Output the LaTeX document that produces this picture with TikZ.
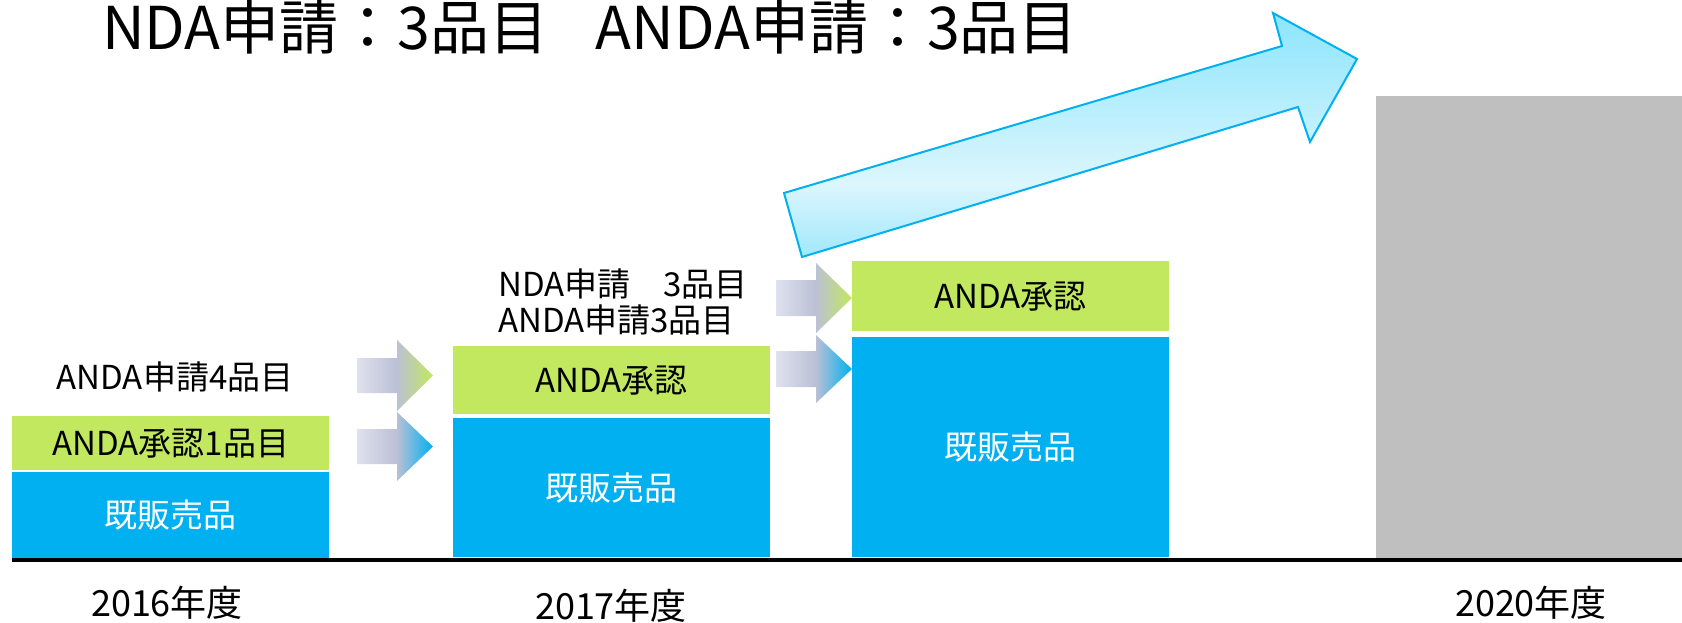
\documentclass[tikz,border=0pt]{standalone}
\usepackage{fontspec}
\setmainfont{Noto Sans CJK JP}
\usetikzlibrary{calc}

\definecolor{apprgreen}{RGB}{193,232,94}
\definecolor{salesblue}{RGB}{0,176,240}
\definecolor{futuregrey}{RGB}{191,191,191}
\definecolor{arrowpale}{RGB}{223,225,238}
\definecolor{arrowgrey}{RGB}{188,192,214}
\definecolor{growdark}{RGB}{140,229,252}
\definecolor{growlight}{RGB}{220,246,253}
\definecolor{growlow}{RGB}{160,232,252}

\pgfdeclarehorizontalshading{togreen}{100bp}{color(0bp)=(arrowpale); color(25bp)=(arrowpale); color(51bp)=(arrowgrey); color(75bp)=(apprgreen); color(100bp)=(apprgreen)}
\pgfdeclarehorizontalshading{toblue}{100bp}{color(0bp)=(arrowpale); color(25bp)=(arrowpale); color(51bp)=(arrowgrey); color(75bp)=(salesblue); color(100bp)=(salesblue)}
\pgfdeclareverticalshading{growth}{100bp}{color(0bp)=(growlow); color(25bp)=(growlow); color(40bp)=(growlight); color(75bp)=(growdark); color(100bp)=(growdark)}

\begin{document}
\begin{tikzpicture}[x=1pt,y=-1pt,
  apprbox/.style={fill=apprgreen,inner sep=0,minimum width=317,anchor=north west,font=\fontsize{33}{36}\selectfont},
  salesbox/.style={fill=salesblue,text=white,inner sep=0,minimum width=317,anchor=north west,font=\fontsize{33}{36}\selectfont},
  plainlabel/.style={inner sep=0,font=\fontsize{33}{36}\selectfont},
  yearlabel/.style={inner sep=0,font=\fontsize{36}{40}\selectfont},
  greenstep/.style={shading=togreen},
  bluestep/.style={shading=toblue}]
\useasboundingbox (0,0) rectangle (1682,623);

\node[inner sep=0,anchor=base west,font=\fontsize{59}{70}\selectfont] (title) at (102,50) {NDA申請：3品目\hspace{0.8em}ANDA申請：3品目};

% 2016
\coordinate (b16) at (12,416);
\node[apprbox,minimum height=54] (appr16) at (b16) {ANDA承認1品目};
\node[salesbox,minimum height=86] (sales16) at ($ (b16) + (0,56) $) {既販売品};
\node[plainlabel] (filed16) at (175,377) {ANDA申請4品目};
\node[yearlabel] (year16) at (167,603) {2016年度};

% 2017
\coordinate (b17) at (453,346);
\node[apprbox,minimum height=68] (appr17) at (b17) {ANDA承認};
\node[salesbox,minimum height=139] (sales17) at ($ (b17) + (0,72) $) {既販売品};
\node[plainlabel,align=left,anchor=west] (filed17) at (498,302) {NDA申請　3品目\\ANDA申請3品目};
\node[yearlabel] (year17) at (611,606) {2017年度};

% next year
\coordinate (b18) at (852,261);
\node[apprbox,minimum height=70] (appr18) at (b18) {ANDA承認};
\node[salesbox,minimum height=220] (sales18) at ($ (b18) + (0,76) $) {既販売品};

% 2020
\node[fill=futuregrey,inner sep=0,minimum width=306,minimum height=462,anchor=north west] (goal20) at (1376,96) {};
\node[yearlabel] (year20) at (1531,603) {2020年度};

% axis
\coordinate (axisL) at (12,560);
\coordinate (axisR) at (1682,560);
\draw[line width=4] (axisL) -- (axisR);

% step arrows between the years
\coordinate (s1) at (357,358);
\coordinate (s2) at (357,429);
\coordinate (s3) at (776,280);
\coordinate (s4) at (776,351);
\shade[greenstep] (s1) -- ++(40,0) -- ++(0,-18) -- ++(36,35.5) -- ++(-36,35.5) -- ++(0,-18) -- ++(-40,0) -- cycle;
\shade[bluestep] (s2) -- ++(40,0) -- ++(0,-17) -- ++(36,34.5) -- ++(-36,34.5) -- ++(0,-17) -- ++(-40,0) -- cycle;
\shade[greenstep] (s3) -- ++(40,0) -- ++(0,-17) -- ++(36,35) -- ++(-36,35) -- ++(0,-17) -- ++(-40,0) -- cycle;
\shade[bluestep] (s4) -- ++(40,0) -- ++(0,-16) -- ++(36,34) -- ++(-36,34) -- ++(0,-16) -- ++(-40,0) -- cycle;

% growth arrow
\coordinate (tailtop) at (784,193);
\coordinate (tailbot) at (802,257);
\coordinate (necktop) at (1282,46);
\coordinate (barbtop) at (1273,13);
\coordinate (tip) at (1357,59);
\coordinate (barbbot) at (1310,142);
\coordinate (neckbot) at (1298,107);
\shade[shading=growth,draw=salesblue,line width=2] (tailtop) -- (necktop) -- (barbtop) -- (tip) -- (barbbot) -- (neckbot) -- (tailbot) -- cycle;
\end{tikzpicture}
\end{document}
